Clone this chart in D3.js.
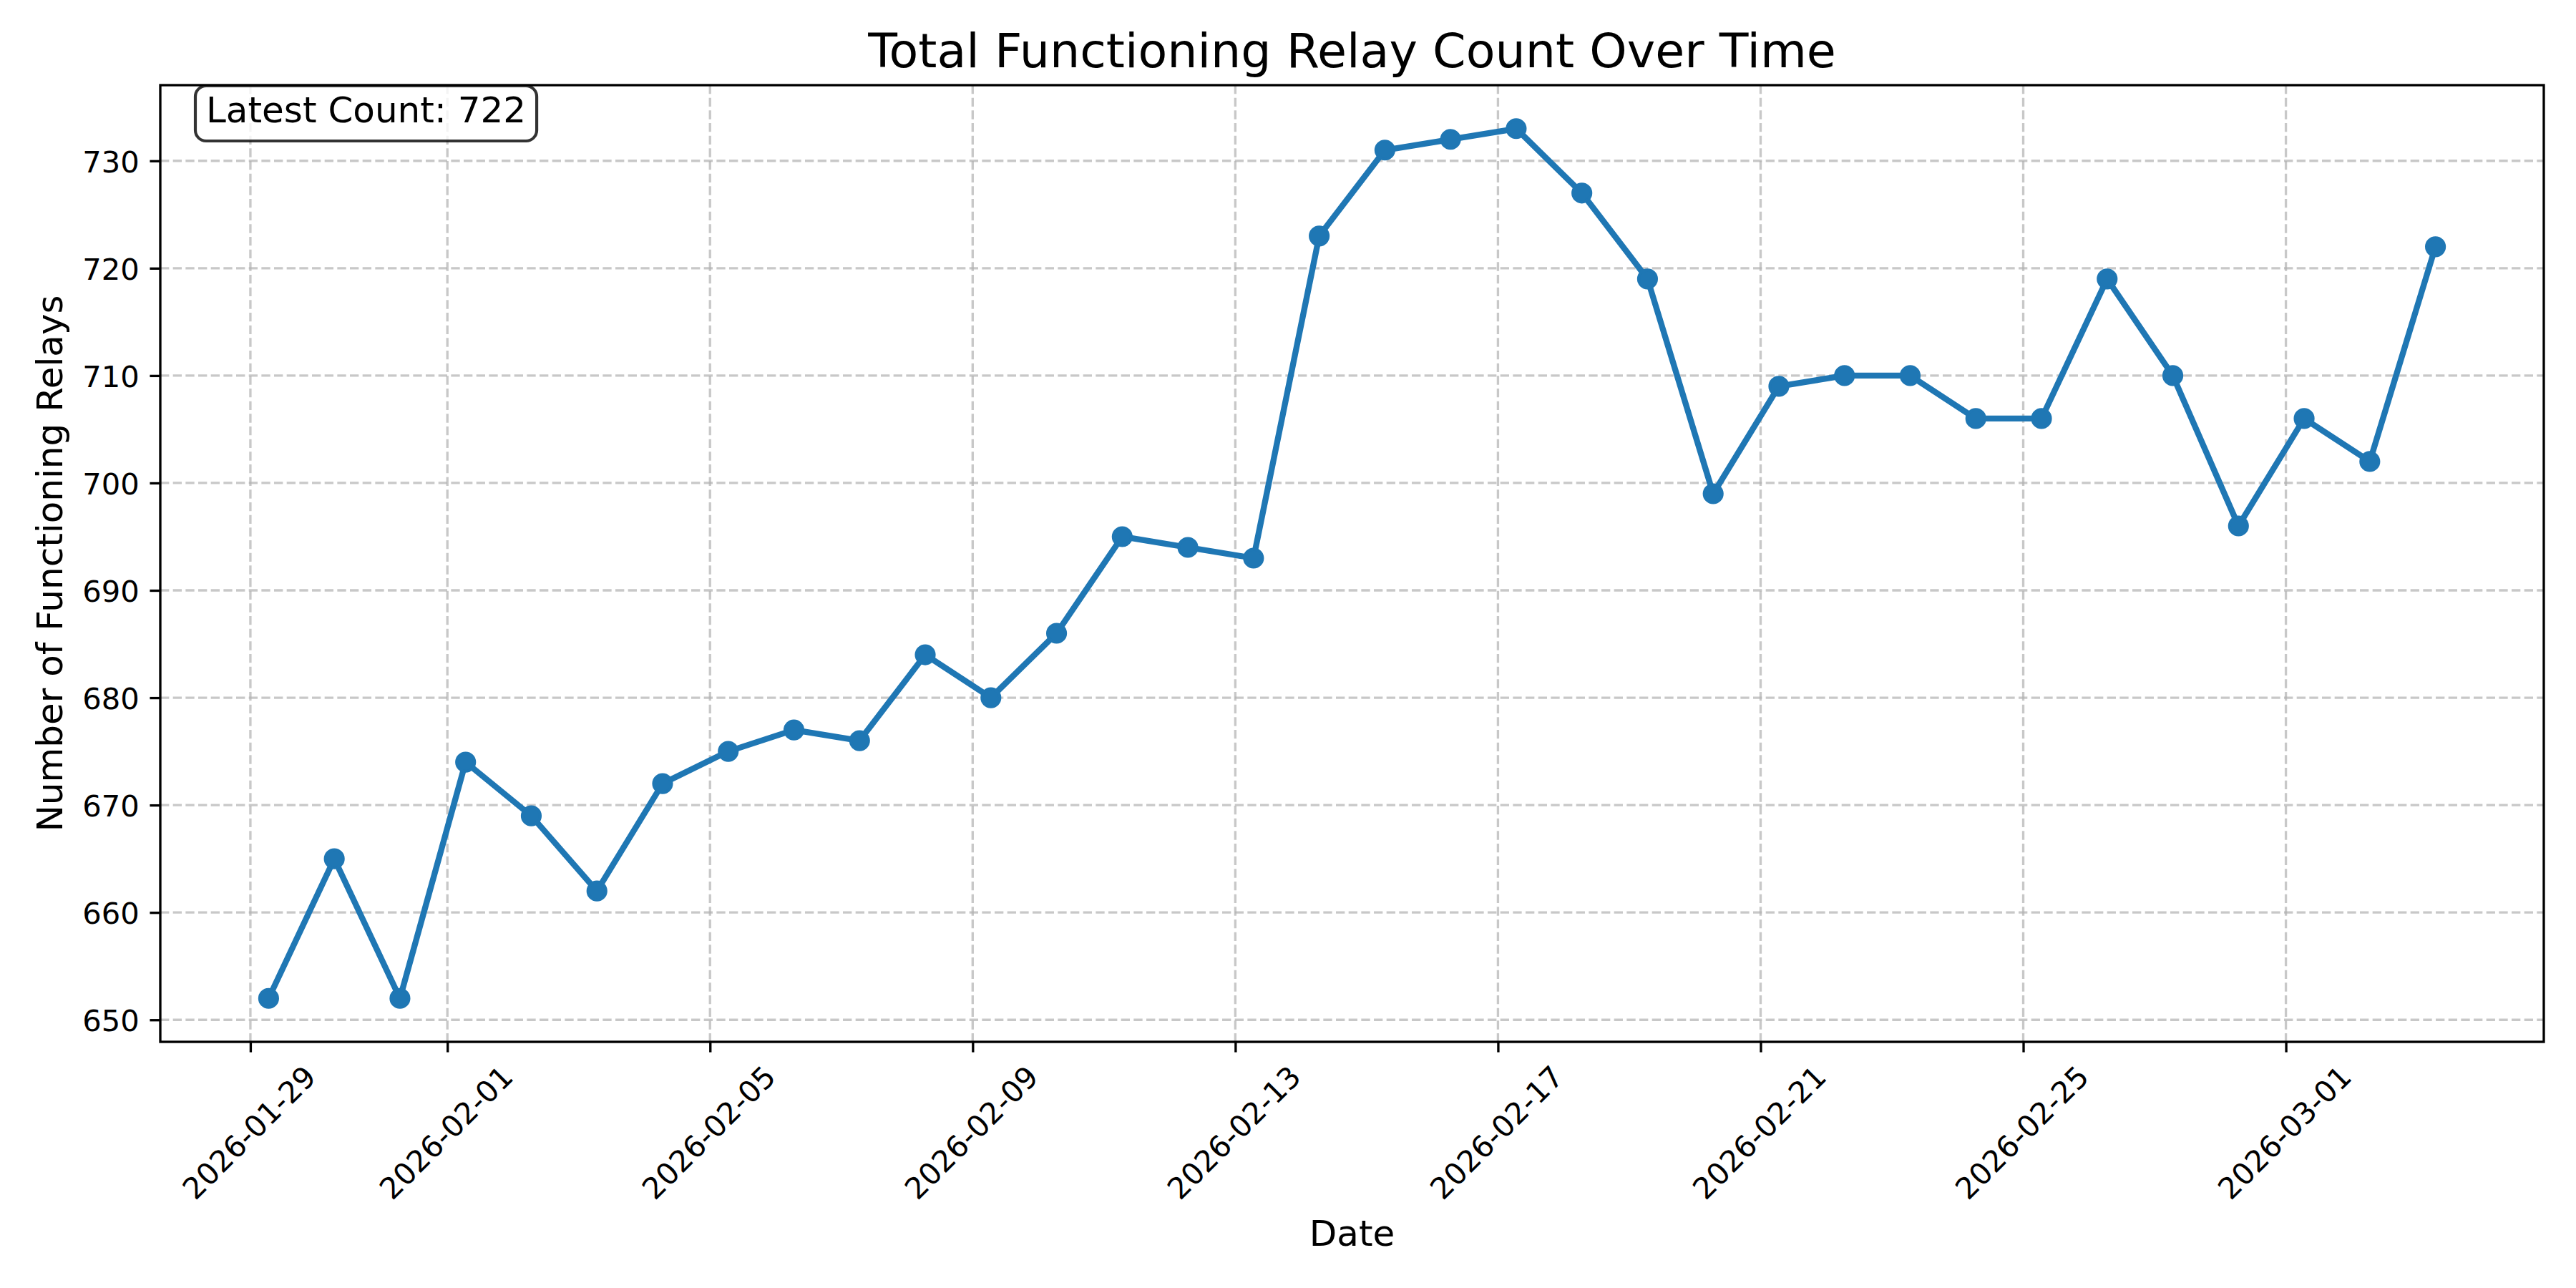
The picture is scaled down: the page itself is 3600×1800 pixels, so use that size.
<!doctype html>
<html>
  <head>
    <meta charset="utf-8" />
    <title>Total Functioning Relay Count Over Time</title>
    <style>
      body {
        margin: 0;
        background: #fff;
      }
      svg {
        display: block;
      }
      text {
        font-family: "DejaVu Sans", sans-serif;
        fill: #000;
      }
    </style>
  </head>
  <body>
    <svg id="chart"></svg>
    <script src="https://d3js.org/d3.v7.min.js"></script>
    <script>
      // daily samples (taken around 06:40 UTC each day)
      const sampleDates = [
        "2026-01-29", "2026-01-30", "2026-01-31", "2026-02-01", "2026-02-02",
        "2026-02-03", "2026-02-04", "2026-02-05", "2026-02-06", "2026-02-07",
        "2026-02-08", "2026-02-09", "2026-02-10", "2026-02-11", "2026-02-12",
        "2026-02-13", "2026-02-14", "2026-02-15", "2026-02-16", "2026-02-17",
        "2026-02-18", "2026-02-19", "2026-02-20", "2026-02-21", "2026-02-22",
        "2026-02-23", "2026-02-24", "2026-02-25", "2026-02-26", "2026-02-27",
        "2026-02-28", "2026-03-01", "2026-03-02", "2026-03-03",
      ];
      const sampleTime = "T06:40:00Z";
      const relayCounts = [
        652, 665, 652, 674, 669, 662, 672, 675, 677, 676,
        684, 680, 686, 695, 694, 693, 723, 731, 732, 733,
        727, 719, 699, 709, 710, 710, 706, 706, 719, 710,
        696, 706, 702, 722,
      ];
      const xTickDates = [
        "2026-01-29", "2026-02-01", "2026-02-05", "2026-02-09", "2026-02-13",
        "2026-02-17", "2026-02-21", "2026-02-25", "2026-03-01",
      ];
      const yTicks = [650, 660, 670, 680, 690, 700, 710, 720, 730];

      const W = 3600, H = 1800;
      const pt = 300 / 72; // px per point at 300 dpi
      const plot = { left: 224, right: 3555, top: 119, bottom: 1456 };
      const blue = "#1f77b4";

      const data = sampleDates.map((d, i) => ({
        date: new Date(d + sampleTime),
        value: relayCounts[i],
      }));

      const svg = d3.select("#chart").attr("width", W).attr("height", H);

      // matplotlib-style 5% margins
      const [t0, t1] = d3.extent(data, (d) => +d.date);
      const tPad = (t1 - t0) * 0.05;
      const x = d3
        .scaleUtc()
        .domain([new Date(t0 - tPad), new Date(t1 + tPad)])
        .range([plot.left, plot.right]);

      const [v0, v1] = d3.extent(data, (d) => d.value);
      const vPad = (v1 - v0) * 0.05;
      const y = d3
        .scaleLinear()
        .domain([v0 - vPad, v1 + vPad])
        .range([plot.bottom, plot.top]);

      const xTicks = xTickDates.map((d) => new Date(d + "T00:00:00Z"));

      // grid
      const grid = svg.append("g").attr("class", "grid");
      const gridStyle = (sel) =>
        sel
          .attr("stroke", "#b0b0b0")
          .attr("stroke-opacity", 0.7)
          .attr("stroke-width", 0.8 * pt)
          .attr("stroke-dasharray", `${3.7 * 0.8 * pt},${1.6 * 0.8 * pt}`);
      grid
        .selectAll("line.v")
        .data(xTicks)
        .join("line")
        .attr("class", "v")
        .attr("x1", (d) => x(d))
        .attr("x2", (d) => x(d))
        .attr("y1", plot.top)
        .attr("y2", plot.bottom)
        .call(gridStyle);
      grid
        .selectAll("line.h")
        .data(yTicks)
        .join("line")
        .attr("class", "h")
        .attr("x1", plot.left)
        .attr("x2", plot.right)
        .attr("y1", (d) => y(d))
        .attr("y2", (d) => y(d))
        .call(gridStyle);

      // series
      const line = d3
        .line()
        .x((d) => x(d.date))
        .y((d) => y(d.value));
      svg
        .append("path")
        .datum(data)
        .attr("d", line)
        .attr("fill", "none")
        .attr("stroke", blue)
        .attr("stroke-width", 2 * pt)
        .attr("stroke-linejoin", "round")
        .attr("stroke-linecap", "square");
      svg
        .append("g")
        .selectAll("circle")
        .data(data)
        .join("circle")
        .attr("cx", (d) => x(d.date))
        .attr("cy", (d) => y(d.value))
        .attr("r", 3 * pt)
        .attr("fill", blue)
        .attr("stroke", blue)
        .attr("stroke-width", 1 * pt);

      // axes
      const tickLen = 3.5 * pt, tickPad = 3.5 * pt;
      const tickFont = 10 * pt;

      const yAxis = svg
        .append("g")
        .attr("transform", `translate(${plot.left},0)`)
        .call(
          d3
            .axisLeft(y)
            .tickValues(yTicks)
            .tickSize(tickLen)
            .tickPadding(tickPad)
            .tickFormat(d3.format("d")),
        );
      yAxis.select(".domain").remove();
      yAxis.attr("font-family", null).attr("font-size", null);
      yAxis
        .selectAll(".tick line")
        .attr("stroke", "#000")
        .attr("stroke-width", 0.8 * pt);
      yAxis
        .selectAll(".tick text")
        .attr("font-size", tickFont)
        .attr("dy", "0.365em")
        .attr("fill", "#000");

      const xAxis = svg
        .append("g")
        .attr("transform", `translate(0,${plot.bottom})`)
        .call(
          d3
            .axisBottom(x)
            .tickValues(xTicks)
            .tickSize(tickLen)
            .tickPadding(tickPad)
            .tickFormat(d3.utcFormat("%Y-%m-%d")),
        );
      xAxis.select(".domain").remove();
      xAxis.attr("font-family", null).attr("font-size", null);
      xAxis
        .selectAll(".tick line")
        .attr("stroke", "#000")
        .attr("stroke-width", 0.8 * pt);
      // rotate 45deg, rotated bbox centred under the tick, top at pad
      const asc = 0.76 * tickFont, desc = 0.21 * tickFont;
      const s45 = Math.SQRT1_2;
      xAxis
        .selectAll(".tick text")
        .attr("font-size", tickFont)
        .attr("fill", "#000")
        .attr("text-anchor", "end")
        .attr("dy", null)
        .attr("y", null)
        .each(function () {
          const w = this.getComputedTextLength();
          const top = tickLen + tickPad;
          const xe = (w - desc + asc) * s45 * 0.5;
          const ye = top + asc * s45;
          d3.select(this).attr(
            "transform",
            `translate(${xe},${ye}) rotate(-45)`,
          );
        });

      // spines
      svg
        .append("rect")
        .attr("x", plot.left)
        .attr("y", plot.top)
        .attr("width", plot.right - plot.left)
        .attr("height", plot.bottom - plot.top)
        .attr("fill", "none")
        .attr("stroke", "#000")
        .attr("stroke-width", 0.8 * pt);

      // labels
      svg
        .append("text")
        .attr("x", (plot.left + plot.right) / 2)
        .attr("y", 94)
        .attr("text-anchor", "middle")
        .attr("font-size", 16 * pt)
        .text("Total Functioning Relay Count Over Time");
      svg
        .append("text")
        .attr("x", (plot.left + plot.right) / 2)
        .attr("y", 1741)
        .attr("text-anchor", "middle")
        .attr("font-size", 12 * pt)
        .text("Date");
      svg
        .append("text")
        .attr(
          "transform",
          `translate(87,${(plot.top + plot.bottom) / 2}) rotate(-90)`,
        )
        .attr("text-anchor", "middle")
        .attr("font-size", 12 * pt)
        .text("Number of Functioning Relays");

      // latest count box
      const latest = relayCounts[relayCounts.length - 1];
      const boxPad = 0.3 * 12 * pt;
      const note = svg.append("g");
      const noteText = note
        .append("text")
        .attr("x", 288)
        .attr("y", 171)
        .attr("font-size", 12 * pt)
        .text(`Latest Count: ${latest}`);
      const tw = noteText.node().getComputedTextLength();
      note
        .insert("rect", "text")
        .attr("x", 288 - boxPad)
        .attr("y", 120)
        .attr("width", tw + 2 * boxPad)
        .attr("height", 77)
        .attr("rx", boxPad)
        .attr("ry", boxPad)
        .attr("fill", "#fff")
        .attr("fill-opacity", 0.8)
        .attr("stroke", "#000")
        .attr("stroke-opacity", 0.8)
        .attr("stroke-width", 1 * pt);
    </script>
  </body>
</html>
